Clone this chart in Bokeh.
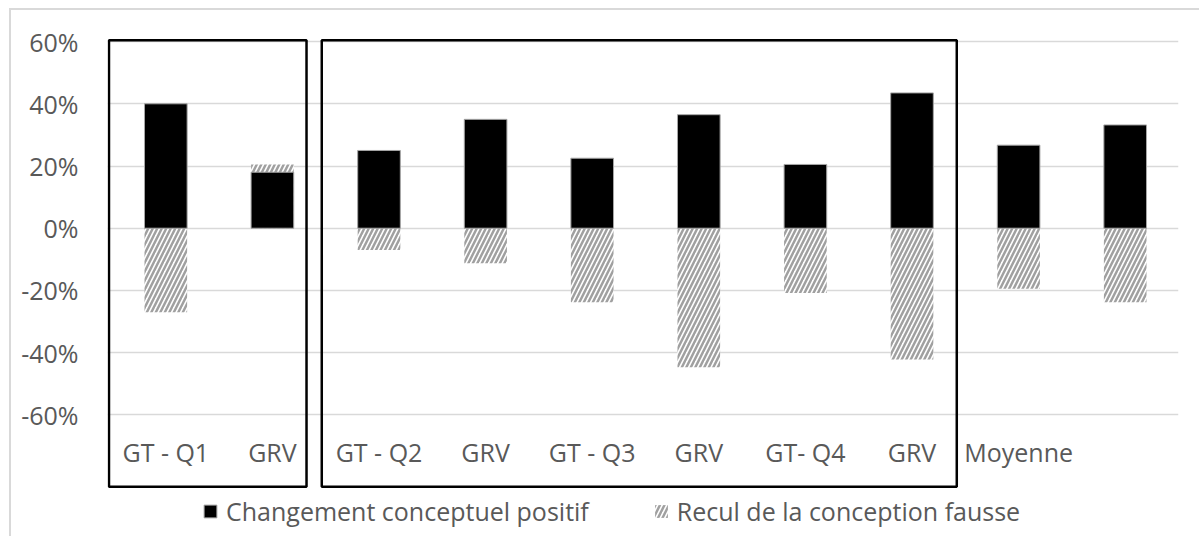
from bokeh.plotting import figure
from bokeh.models import (Range1d, FixedTicker, NumeralTickFormatter, ColumnDataSource,
                          Legend, LegendItem)
from bokeh.core.properties import value
from bokeh.embed import file_html
from bokeh.resources import INLINE

# ---- data ----
categories = ["GT - Q1", "GRV", "GT - Q2", "GRV", "GT - Q3", "GRV", "GT- Q4", "GRV", "Moyenne", ""]
positif = [0.40, 0.18, 0.25, 0.35, 0.225, 0.365, 0.205, 0.435, 0.267, 0.332]
recul = [-0.27, 0.205, -0.07, -0.113, -0.238, -0.447, -0.208, -0.422, -0.195, -0.238]
y_ticks = [-0.6, -0.4, -0.2, 0.0, 0.2, 0.4, 0.6]
series_names = ["Changement conceptuel positif", "Recul de la conception fausse"]
groups = [(0, 1), (2, 7)]  # first / last category index framed by a black box

FONT = "Open Sans"
GREY_TXT = "#595959"
FS = "25px"

xs = list(range(len(categories)))
src = ColumnDataSource(dict(x=xs, pos=positif, rec=recul, cat=categories,
                            ly=[-0.72] * len(categories)))

p = figure(width=1190, height=528, output_backend="svg", toolbar_location=None,
           x_range=Range1d(-0.547, len(categories) - 0.5),
           y_range=Range1d(-0.9977, 0.6357),
           x_axis_location=None,
           min_border_left=96, min_border_right=23, min_border_top=20, min_border_bottom=0)
p.styles = {"border-left": "2px solid #d9d9d9", "border-top": "2px solid #d9d9d9",
            "margin-left": "9px", "margin-top": "8px"}
p.outline_line_color = None
p.background_fill_color = "white"
p.border_fill_color = "white"

# y axis
yax = p.yaxis[0]
yax.ticker = FixedTicker(ticks=y_ticks)
yax.formatter = NumeralTickFormatter(format="0%")
yax.axis_line_color = None
yax.major_tick_line_color = None
yax.minor_tick_line_color = None
yax.major_label_standoff = 23
yax.major_label_text_font = FONT
yax.major_label_text_font_size = FS
yax.major_label_text_color = GREY_TXT

p.xgrid.visible = False
p.ygrid.ticker = FixedTicker(ticks=y_ticks)
p.ygrid.grid_line_color = "#d9d9d9"
p.ygrid.grid_line_width = 1.5

# bars
r_rec = p.vbar(x="x", top="rec", bottom=0, width=0.4, source=src,
               fill_color="white", line_color=None,
               hatch_pattern="/", hatch_color="#a0a0a0", hatch_weight=2.5, hatch_scale=9)
r_pos = p.vbar(x="x", top="pos", bottom=0, width=0.4, source=src,
               fill_color="black", line_color="#a6a6a6", line_width=1)

# category labels
p.text(x="x", y="ly", text="cat", source=src, text_align="center", text_baseline="middle",
       text_font=value(FONT), text_font_size=FS, text_color=GREY_TXT)

# black group boxes
box_pad = [(0.533, 0.32), (0.537, 0.42)]
for (g0, g1), (pl, pr) in zip(groups, box_pad):
    p.quad(left=g0 - pl, right=g1 + pr, top=0.6045, bottom=-0.8315,
           fill_color=None, line_color="black", line_width=2.5)

legend = Legend(items=[LegendItem(label=series_names[0], renderers=[r_pos]),
                       LegendItem(label=series_names[1], renderers=[r_rec])],
                orientation="horizontal", location=(95, 10), spacing=64,
                padding=0, margin=0, glyph_width=16, glyph_height=16, label_standoff=8,
                border_line_color=None, background_fill_alpha=0,
                label_text_font=FONT, label_text_font_size=FS, label_text_color=GREY_TXT)
p.add_layout(legend)

open("out.html", "w").write(file_html(p, INLINE))
